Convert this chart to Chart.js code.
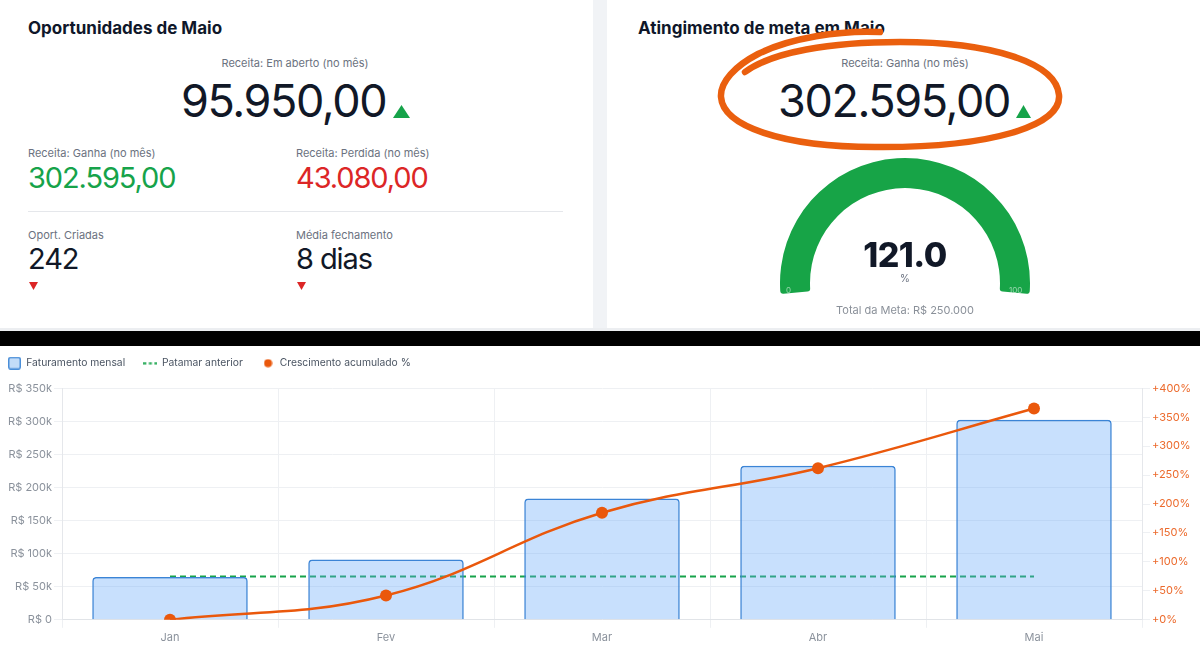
<!DOCTYPE html>
<html>
<head>
<meta charset="utf-8">
<script src="https://cdn.jsdelivr.net/npm/chart.js@4.4.1/dist/chart.umd.min.js"></script>
<style>
html,body{margin:0;padding:0;width:1200px;height:651px;overflow:hidden;background:#fff;font-family:Inter,"Noto Sans",sans-serif;}
.box{position:absolute;}
.t{position:absolute;white-space:nowrap;line-height:1;}
.c{transform:translateX(-50%);}
.lbl{font-size:11px;color:#6b7280;}
.big{font-size:45px;font-weight:400;color:#111827;letter-spacing:-1.4px;}
.mid{font-size:29px;font-weight:400;letter-spacing:-1.1px;}
.title{font-size:17px;font-weight:700;color:#0f172a;}
</style>
</head>
<body>
<!-- panels -->
<div class="box" style="left:0;top:0;width:593px;height:328px;background:#fff"></div>
<div class="box" style="left:593px;top:0;width:14px;height:331px;background:#f1f3f6"></div>
<div class="box" style="left:607px;top:0;width:593px;height:328px;background:#fff"></div>
<div class="box" style="left:0;top:328px;width:1200px;height:3px;background:#eceef1"></div>
<div class="box" style="left:0;top:331px;width:1200px;height:15px;background:#000"></div>

<!-- left panel -->
<div class="t title" style="left:28px;top:20px">Oportunidades de Maio</div>
<div class="t lbl c" style="left:295px;top:58px">Receita: Em aberto (no mês)</div>
<div class="t big" style="left:181px;top:77.5px">95.950,00</div>
<svg class="box" style="left:393px;top:105px" width="17" height="13"><polygon points="8.5,0 17,13 0,13" fill="#16a34a"/></svg>

<div class="t lbl" style="left:28px;top:148px">Receita: Ganha (no mês)</div>
<div class="t mid" style="left:28px;top:163px;color:#16a34a">302.595,00</div>
<div class="t lbl" style="left:296px;top:148px">Receita: Perdida (no mês)</div>
<div class="t mid" style="left:296px;top:163px;color:#dc2626">43.080,00</div>

<div class="box" style="left:28px;top:211px;width:535px;height:1px;background:#e5e7eb"></div>

<div class="t lbl" style="left:28px;top:230px">Oport. Criadas</div>
<div class="t mid" style="left:28px;top:244px;color:#111827">242</div>
<svg class="box" style="left:29px;top:282px" width="9" height="8"><polygon points="0,0 9,0 4.5,8" fill="#dc2626"/></svg>
<div class="t lbl" style="left:296px;top:230px">Média fechamento</div>
<div class="t mid" style="left:296px;top:244px;color:#111827">8 dias</div>
<svg class="box" style="left:297px;top:282px" width="9" height="8"><polygon points="0,0 9,0 4.5,8" fill="#dc2626"/></svg>

<!-- right panel -->
<div class="t title" style="left:638px;top:20px">Atingimento de meta em Maio</div>
<div class="t lbl c" style="left:905px;top:58px">Receita: Ganha (no mês)</div>
<div class="t big" style="left:778px;top:77.5px">302.595,00</div>
<svg class="box" style="left:1016px;top:105px" width="15" height="13"><polygon points="7.5,0 15,13 0,13" fill="#16a34a"/></svg>

<canvas id="gauge" class="box" style="left:780px;top:158px" width="250" height="136"></canvas>
<div class="t c" style="left:905px;top:238px;font-size:34px;font-weight:800;color:#111827;letter-spacing:-0.5px">121.0</div>
<div class="t c" style="left:905px;top:273px;font-size:10px;color:#6b7280">%</div>
<div class="t" style="left:786px;top:286px;font-size:8px;color:rgba(255,255,255,0.55)">0</div>
<div class="t" style="left:1009px;top:286px;font-size:8px;color:rgba(255,255,255,0.55)">100</div>
<div class="t lbl c" style="left:905px;top:305px;color:#8a9099">Total da Meta: R$ 250.000</div>

<!-- hand-drawn annotation -->
<svg class="box" style="left:0;top:0;pointer-events:none" width="1200" height="340">
  <g fill="none" stroke="#ea5f0e" stroke-width="6.5" stroke-linecap="round" stroke-linejoin="round">
    <path d="M880,32 C840,30 790,38 758,54 C735,66 720,82 721,97 C723,126 782,147 875,147 C990,148 1062,126 1059,95 C1056,62 990,42 900,42 C830,42 772,52 745,72"/>
  </g>
</svg>

<!-- bottom chart -->
<div class="box" style="left:-2px;top:346px;width:1202px;height:305px;background:#fff">
  <canvas id="combo" width="1202" height="305"></canvas>
</div>

<script>
// ---- data ----
const months = ['Jan', 'Fev', 'Mar', 'Abr', 'Mai'];
const faturamento = [64800, 91200, 183500, 233000, 302595];
const patamar = [65500, 65500, 65500, 65500, 65500];
const crescimento = [0, 42, 185, 262, 365];
const leftTickLabels = ['R$ 0', 'R$ 50k', 'R$ 100k', 'R$ 150k', 'R$ 200k', 'R$ 250k', 'R$ 300k', 'R$ 350k'];
const rightTickLabels = ['+0%', '+50%', '+100%', '+150%', '+200%', '+250%', '+300%', '+350%', '+400%'];
const legendLabels = ['Faturamento mensal', 'Patamar anterior', 'Crescimento acumulado %'];
const gaugeValue = [121.0];
const gaugeMax = [100];

// ---- legend icons ----
function icon(w, h, draw) { const c = document.createElement('canvas'); c.width = w; c.height = h; draw(c.getContext('2d')); return c; }
const iconBar = icon(13, 13, g => {
  g.fillStyle = '#c3dcf8'; g.strokeStyle = '#4a8ed8'; g.lineWidth = 1.5;
  g.beginPath(); g.roundRect(0.75, 0.75, 11.5, 11.5, 2); g.fill(); g.stroke();
});
const iconDash = icon(14, 3, g => {
  g.fillStyle = '#16a34a'; g.fillRect(0, 0.5, 3, 2); g.fillRect(5.5, 0.5, 3, 2); g.fillRect(11, 0.5, 3, 2);
});
const iconDot = icon(9, 9, g => {
  g.fillStyle = '#ea580c'; g.beginPath(); g.arc(4.5, 4.5, 4, 0, Math.PI * 2); g.fill();
});
const legendIcons = [iconBar, iconDash, iconDot];

const legendSpacer = {
  id: 'legendSpacer',
  afterInit(chart) {
    const lg = chart.legend;
    if (!lg) return;
    const fit = lg.fit;
    lg.fit = function () { fit.call(this); this.height += 10; };
  }
};

const font = { family: 'Inter', size: 11 };

new Chart(document.getElementById('combo'), {
  type: 'bar',
  data: {
    labels: months,
    datasets: [
      { type: 'bar', label: legendLabels[0], data: faturamento, yAxisID: 'y', order: 1,
        backgroundColor: 'rgba(96,165,250,0.35)', borderColor: '#3b84d6', borderWidth: 1.5,
        borderRadius: 4, borderSkipped: 'bottom' },
      { type: 'line', label: legendLabels[1], data: patamar, yAxisID: 'y', order: 2,
        borderColor: '#16a34a', borderWidth: 2, borderDash: [6, 4], pointRadius: 0, fill: false, tension: 0 },
      { type: 'line', label: legendLabels[2], data: crescimento, yAxisID: 'y1', order: 0,
        borderColor: '#ea580c', backgroundColor: '#ea580c', borderWidth: 2.5, tension: 0.4,
        pointRadius: 6, pointBackgroundColor: '#ea580c', pointBorderWidth: 0, fill: false }
    ]
  },
  options: {
    responsive: false, animation: false, devicePixelRatio: 1,
    layout: { padding: { left: 0, right: 0, top: 2, bottom: 4 } },
    plugins: {
      tooltip: { enabled: false },
      legend: {
        position: 'top', align: 'start',
        labels: {
          usePointStyle: true, pointStyleWidth: 13, padding: 10, color: '#4b5563',
          font: { family: 'Inter', size: 10.3 },
          generateLabels(chart) {
            const items = Chart.defaults.plugins.legend.labels.generateLabels(chart);
            items.forEach((it, i) => { it.pointStyle = legendIcons[i]; it.text = legendLabels[i] + (i < 2 ? '   ' : ''); it.lineDash = []; });
            return items;
          }
        }
      }
    },
    scales: {
      x: {
        grid: { color: '#eef0f3', tickLength: 8 },
        border: { color: '#e1e4e8' },
        ticks: { color: '#8b929c', font: font, padding: 3 }
      },
      y: {
        position: 'left', min: 0, max: 350000,
        grid: { color: '#eef0f3', tickLength: 8 },
        border: { color: '#e5e7eb' },
        ticks: { stepSize: 50000, color: '#8b929c', font: font, padding: 2, callback: (v, i) => leftTickLabels[i] },
        afterFit(s) { s.width = 64; }
      },
      y1: {
        position: 'right', min: 0, max: 400,
        grid: { drawOnChartArea: false, color: '#eef0f3', tickLength: 8 },
        border: { color: '#e5e7eb' },
        ticks: { stepSize: 50, color: '#ec6a2c', font: font, padding: 2, callback: (v, i) => rightTickLabels[i] },
        afterFit(s) { s.width = 58; }
      }
    }
  },
  plugins: [legendSpacer]
});

// ---- gauge ----
const shown = Math.min(gaugeValue[0], gaugeMax[0]);
new Chart(document.getElementById('gauge'), {
  type: 'doughnut',
  data: { labels: ['Atingido', 'Restante'], datasets: [{ data: [shown, gaugeMax[0] - shown], backgroundColor: ['#17a447', '#e5e7eb'], borderWidth: 0, borderRadius: 3 }] },
  options: {
    responsive: false, animation: false, devicePixelRatio: 1,
    rotation: -95, circumference: 190, cutout: '76%',
    layout: { padding: 0 },
    plugins: { legend: { display: false }, tooltip: { enabled: false } }
  }
});
</script>
</body>
</html>
